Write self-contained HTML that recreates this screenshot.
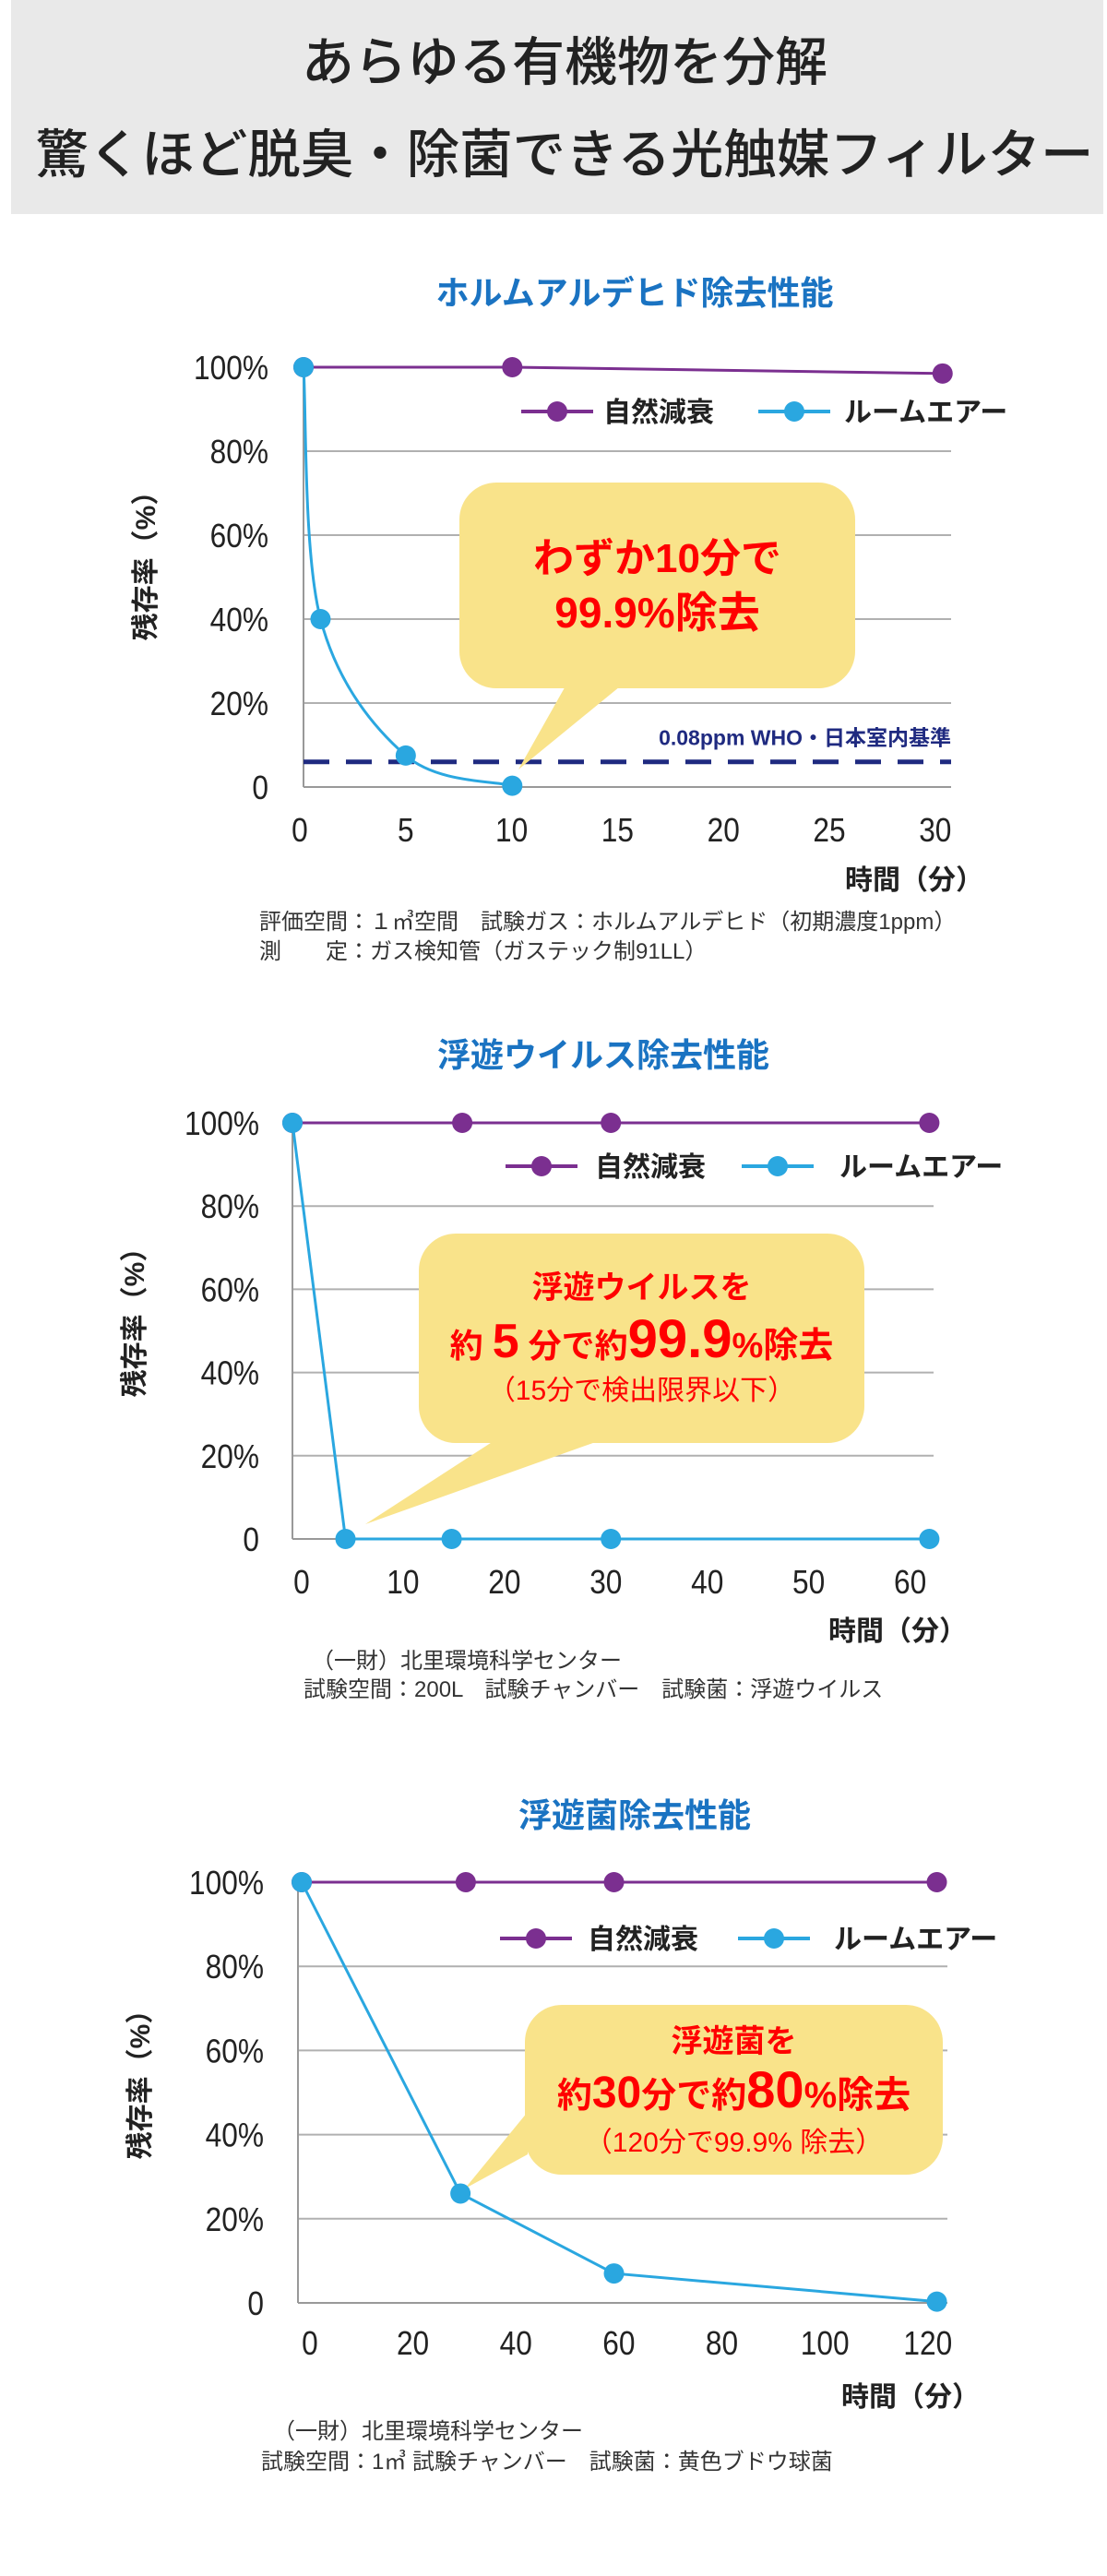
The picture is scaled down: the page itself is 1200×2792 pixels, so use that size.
<!DOCTYPE html>
<html><head><meta charset="utf-8">
<style>
html,body{margin:0;padding:0;background:#fff;}
svg{display:block;font-family:"Liberation Sans","Noto Sans CJK JP",sans-serif;}
</style></head>
<body>
<svg id="page" width="1200" height="2792" viewBox="0 0 1200 2792" xmlns="http://www.w3.org/2000/svg">
<rect x="12" y="0" width="1184" height="232" fill="#e9e9e9"/>
<text x="612" y="87" text-anchor="middle" font-size="57" font-weight="500" fill="#222">あらゆる有機物を分解</text>
<text x="612" y="187" text-anchor="middle" font-size="57" font-weight="500" fill="#222" textLength="1147" lengthAdjust="spacingAndGlyphs">驚くほど脱臭・除菌できる光触媒フィルター</text>
<g id="charts"></g>
</svg>
<script>
// Chart 1: formaldehyde
const c1XTicks = [0,5,10,15,20,25,30];
const c1YTicks = [0,20,40,60,80,100];
const c1NatT = [0,9.8,30];
const c1NatV = [100,100,98.5];
const c1RoomT = [0,0.8,4.8,9.8];
const c1RoomV = [100,40,7.5,0.3];
const c1Who = 6;
// Chart 2: airborne virus
const c2XTicks = [0,10,20,30,40,50,60];
const c2YTicks = [0,20,40,60,80,100];
const c2NatT = [0,16,30,60];
const c2NatV = [100,100,100,100];
const c2RoomT = [0,5,15,30,60];
const c2RoomV = [100,0,0,0,0];
// Chart 3: airborne bacteria
const c3XTicks = [0,20,40,60,80,100,120];
const c3YTicks = [0,20,40,60,80,100];
const c3NatT = [0,31,59,120];
const c3NatV = [100,100,100,100];
const c3RoomT = [0,30,59,120];
const c3RoomV = [100,26,7,0.3];

const NS='http://www.w3.org/2000/svg';
const root=document.getElementById('charts');
function mk(tag,attrs,parent,text){
  const e=document.createElementNS(NS,tag);
  for(const k in attrs)e.setAttribute(k,attrs[k]);
  if(text!==undefined)e.textContent=text;
  (parent||root).appendChild(e);return e;
}
function drawChart(c){
  const g=mk('g',{});
  
  
  const sx=t=>c.x0+(t-c.xMin)/(c.xMax-c.xMin)*(c.x1-c.x0);
  const sy=v=>c.y0-(v/100)*(c.y0-c.y100);
  const sxl=t=>c.lx0+(t-c.xMin)/(c.xMax-c.xMin)*(c.lx1-c.lx0);
  let e=mk('text',{x:c.titleX,y:c.titleY,'text-anchor':'middle','font-size':36,'font-weight':'bold',fill:'#1a73c2'},g,c.title);
  
  
  c.yTicks.forEach(v=>{
    if(v>0&&v<100){
      const l=mk('line',{x1:c.x0,x2:c.x1,y1:sy(v),y2:sy(v),stroke:'#b0b0b0','stroke-width':2},g);
      
      
    }
    const t=mk('text',{x:c.yLabX,y:sy(v)+13,'text-anchor':'end','font-size':36,fill:'#222',transform:`translate(${c.yLabX*0.12},0) scale(0.88,1)`},g,v===0?'0':v+'%');
    
    
  });
  let ax=mk('line',{x1:c.x0,x2:c.x1,y1:sy(0),y2:sy(0),stroke:'#999','stroke-width':2},g);
  
  
  ax=mk('line',{x1:c.x0,x2:c.x0,y1:sy(0),y2:sy(100),stroke:'#999','stroke-width':2},g);
  
  
  c.xTicks.forEach(t=>{
    const xx=sxl(t);
    const tx=mk('text',{x:xx,y:c.xLabY,'text-anchor':'middle','font-size':36,fill:'#222',transform:`translate(${xx*0.12},0) scale(0.88,1)`},g,String(t));
    
    
  });
  if(c.who!==undefined){
    const d=mk('line',{x1:c.x0,x2:c.x1,y1:sy(c.who),y2:sy(c.who),stroke:'#1f2a80','stroke-width':5,'stroke-dasharray':'28 18'},g);
    
    
    const dl=mk('text',{x:c.x1,y:sy(c.who)-18,'text-anchor':'end','font-size':23,'font-weight':'bold',fill:'#1f2a80'},g,'0.08ppm WHO・日本室内基準');
    
    
  }
  const cb=c.callout;
  const cg=mk('g',{},g);
  
  
  mk('rect',{x:cb.x,y:cb.y,width:cb.w,height:cb.h,rx:40,fill:'#f9e38a'},cg);
  mk('polygon',{points:cb.ptr,fill:'#f9e38a'},cg);
  function series(T,V,color,name,smooth){
    const pts=T.map((t,i)=>[sx(t),sy(V[i])]);
    let d='M'+pts[0][0]+','+pts[0][1];
    if(smooth){
      for(let i=0;i<pts.length-1;i++){
        const p0=pts[Math.max(0,i-1)],p1=pts[i],p2=pts[i+1],p3=pts[Math.min(pts.length-1,i+2)];
        let c1x=p1[0]+(p2[0]-p0[0])/6,c1y=p1[1]+(p2[1]-p0[1])/6;
        let c2x=p2[0]-(p3[0]-p1[0])/6,c2y=p2[1]-(p3[1]-p1[1])/6;
        c1y=Math.min(Math.max(c1y,Math.min(p1[1],p2[1])),Math.max(p1[1],p2[1]));
        c2y=Math.min(Math.max(c2y,Math.min(p1[1],p2[1])),Math.max(p1[1],p2[1]));
        d+=` C${c1x},${c1y} ${c2x},${c2y} ${p2[0]},${p2[1]}`;
      }
    } else pts.slice(1).forEach(p=>d+=' L'+p[0]+','+p[1]);
    const sg=mk('g',{},g);
    
    
    mk('path',{d:d,fill:'none',stroke:color,'stroke-width':3},sg);
    pts.forEach(p=>{
      const m=mk('circle',{cx:p[0],cy:p[1],r:11,fill:color},sg);
      
      
    });
  }
  series(c.natT,c.natV,'#7b2f90','series-natural-decay',false);
  series(c.roomT,c.roomV,'#2aa7e0','series-room-air',c.smooth);
  cb.lines.forEach(L=>{
    const t=mk('text',{x:cb.x+cb.w/2,y:L.y,'text-anchor':'middle',fill:'#f00','font-weight':L.w||'bold','font-size':L.s},g);
    
    
    L.parts.forEach(p=>mk('tspan',{'font-size':p[1]},t,p[0]));
  });
  const lg=mk('g',{},g);
  
  
  [[c.leg[0],'#7b2f90','自然減衰',c.leg[2]],[c.leg[1],'#2aa7e0','ルームエアー',c.leg[3]]].forEach(a=>{
    const le=mk('g',{},lg);
    
    
    mk('line',{x1:a[0],x2:a[0]+78,y1:c.legY,y2:c.legY,stroke:a[1],'stroke-width':4},le);
    mk('circle',{cx:a[0]+39,cy:c.legY,r:11,fill:a[1]},le);
    mk('text',{x:a[3],y:c.legY+11,'font-size':30,'font-weight':'bold',fill:'#222'},le,a[2]);
  });
  let yt=mk('text',{transform:`translate(${c.yTitleX},${c.yTitleY}) rotate(-90)`,'text-anchor':'middle','font-size':30,'font-weight':'bold',fill:'#222'},g,'残存率（%）');
  
  
  yt=mk('text',{x:c.xTitleX,y:c.xTitleY,'text-anchor':'end','font-size':30,'font-weight':'bold',fill:'#222'},g,'時間（分）');
  
  
  c.caps.forEach(cp=>{
    const t=mk('text',{x:cp[0],y:cp[1],'font-size':24,fill:'#333'},g,cp[2]);
    
    
  });
}
drawChart({name:'formaldehyde-chart',title:'ホルムアルデヒド除去性能',titleX:688,titleY:330,
  x0:329,x1:1031,xMin:0,xMax:30.4,y0:853,y100:398,lx0:325,lx1:1023,xLabY:912,yLabX:291,
  xTicks:c1XTicks,yTicks:c1YTicks,natT:c1NatT,natV:c1NatV,roomT:c1RoomT,roomV:c1RoomV,smooth:true,who:c1Who,
  callout:{x:498,y:523,w:429,h:223,ptr:'615,740 677,740 562,834',lines:[
    {y:620,s:44,parts:[['わずか',44],['10分で',44]]},{y:680,s:44,parts:[['99.9%除去',46]]}]},
  legY:446,leg:[565,822,654,915],yTitleX:168,yTitleY:606,xTitleX:1066,xTitleY:964,
  caps:[[281,1007,'評価空間：１㎥空間　試験ガス：ホルムアルデヒド（初期濃度1ppm）'],[281,1039,'測　　定：ガス検知管（ガステック制91LL）']]});
drawChart({name:'airborne-virus-chart',title:'浮遊ウイルス除去性能',titleX:654,titleY:1156,
  x0:317,x1:1012,xMin:0,xMax:60.4,y0:1668,y100:1217,lx0:327,lx1:991,xLabY:1727,yLabX:281,
  xTicks:c2XTicks,yTicks:c2YTicks,natT:c2NatT,natV:c2NatV,roomT:c2RoomT,roomV:c2RoomV,smooth:false,
  callout:{x:454,y:1337,w:483,h:227,ptr:'538,1560 654,1560 396,1652',lines:[
    {y:1407,s:34,parts:[['浮遊ウイルスを',34]]},
    {y:1471,s:36,parts:[['約 ',36],['5',52],[' 分で約',36],['99.9',58],['%除去',38]]},
    {y:1517,s:30,w:'normal',parts:[['（15分で検出限界以下）',30]]}]},
  legY:1264,leg:[548,804,645,910],yTitleX:156,yTitleY:1426,xTitleX:1048,xTitleY:1778,
  caps:[[338,1808,'（一財）北里環境科学センター'],[329,1839,'試験空間：200L　試験チャンバー　試験菌：浮遊ウイルス']]});
drawChart({name:'airborne-bacteria-chart',title:'浮遊菌除去性能',titleX:688,titleY:1980,
  x0:323,x1:1027,xMin:-0.7,xMax:122,y0:2496,y100:2040,lx0:332,lx1:1017,xLabY:2552,yLabX:286,
  xTicks:c3XTicks,yTicks:c3YTicks,natT:c3NatT,natV:c3NatV,roomT:c3RoomT,roomV:c3RoomV,smooth:false,
  callout:{x:569,y:2173,w:453,h:184,ptr:'572,2289 572,2335 504,2372',lines:[
    {y:2224,s:34,parts:[['浮遊菌を',34]]},
    {y:2284,s:38,parts:[['約',38],['30',48],['分で約',38],['80',56],['%除去',40]]},
    {y:2332,s:30,w:'normal',parts:[['（120分で99.9% 除去）',30]]}]},
  legY:2101,leg:[542,800,637,904],yTitleX:162,yTitleY:2252,xTitleX:1062,xTitleY:2608,
  caps:[[296,2643,'（一財）北里環境科学センター'],[283,2676,'試験空間：1㎥ 試験チャンバー　試験菌：黄色ブドウ球菌']]});
</script>
</body></html>
